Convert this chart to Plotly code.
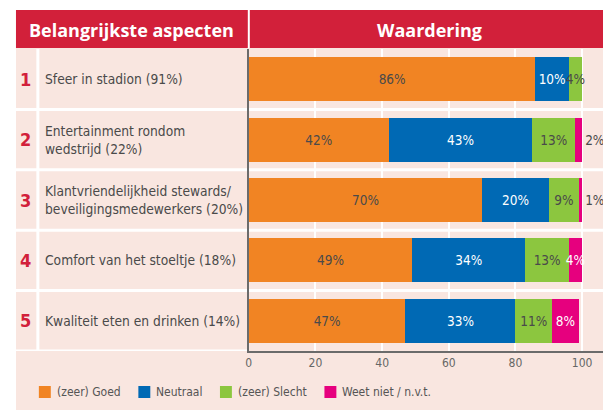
import plotly.graph_objects as go

# page body has an 8px margin; figure laid out in window pixels shifted by it
OFF = 8
WIN_W, WIN_H = 611, 410
W, H = WIN_W - OFF, WIN_H - OFF
PX_PER_UNIT = 3.35

ranks = ["1", "2", "3", "4", "5"]
aspects = [
    "Sfeer in stadion (91%)",
    "Entertainment rondom<br>wedstrijd (22%)",
    "Klantvriendelijkheid stewards/<br>beveiligingsmedewerkers (20%)",
    "Comfort van het stoeltje (18%)",
    "Kwaliteit eten en drinken (14%)",
]
series_names = ["(zeer) Goed", "Neutraal", "(zeer) Slecht", "Weet niet / n.v.t."]
goed = [86, 42, 70, 49, 47]
neutraal = [10, 43, 20, 34, 33]
slecht = [4, 13, 9, 13, 11]
weetniet = [0, 2, 1, 4, 8]
x_ticks = [0, 20, 40, 60, 80, 100]

COLORS = ["#F18423", "#0069B4", "#8CC63F", "#E6007E"]
RED = "#D2203A"
PINK_BG = "#F9E6E0"
TXT = "#4a4a4a"
COND = "Liberation Sans Narrow, DejaVu Sans Condensed, Arial Narrow, sans-serif"
BOLDF = "Open Sans, sans-serif"


def px_x(p):
    return (p - OFF) / W


def px_y(p):
    return 1 - (p - OFF) / H


fig = go.Figure()
series = [goed, neutraal, slecht, weetniet]
for i, (name, vals) in enumerate(zip(series_names, series)):
    texts = [f"{v}%" if v else "" for v in vals]
    if i == 3:
        positions = ["outside" if v < 3 else "inside" for v in vals]
        tcolors = [TXT if v < 3 else "white" for v in vals]
    else:
        positions = ["inside"] * len(vals)
        tcolors = ["white" if i == 1 else TXT] * len(vals)
    fig.add_trace(go.Bar(
        y=aspects, x=vals, name=name, orientation="h",
        marker=dict(color=COLORS[i], line=dict(width=0)),
        text=texts, textposition=positions, insidetextanchor="middle",
        textangle=0, constraintext="none", cliponaxis=False,
        textfont=dict(family=COND, size=13.5, color=tcolors),
        hoverinfo="skip", showlegend=False,
    ))

shapes = []
# pink panel
shapes.append(dict(type="rect", xref="paper", yref="paper", x0=px_x(13), x1=1,
                   y0=0, y1=px_y(48), fillcolor=PINK_BG, line=dict(width=0), layer="below"))
# header
shapes.append(dict(type="rect", xref="paper", yref="paper", x0=px_x(13), x1=1,
                   y0=px_y(48), y1=px_y(10), fillcolor=RED, line=dict(width=0), layer="below"))
shapes.append(dict(type="line", xref="paper", yref="paper", x0=px_x(247), x1=px_x(247),
                   y0=px_y(48), y1=px_y(10), line=dict(color="white", width=2), layer="above"))
# row separators
n = len(aspects)
for k in range(n - 1):
    shapes.append(dict(type="line", xref="paper", yref="y", x0=px_x(13), x1=1,
                       y0=k + 0.5, y1=k + 0.5, line=dict(color="white", width=3), layer="below"))
shapes.append(dict(type="line", xref="paper", yref="y", x0=px_x(13), x1=px_x(246),
                   y0=n - 0.5, y1=n - 0.5, line=dict(color="white", width=3), layer="below"))
# rank column separator
shapes.append(dict(type="line", xref="paper", yref="y", x0=px_x(35), x1=px_x(35),
                   y0=-0.5, y1=n - 0.5, line=dict(color="white", width=3), layer="below"))

annotations = []
annotations.append(dict(text="<b>Belangrijkste aspecten</b>", xref="paper", yref="paper",
                        x=px_x(129), y=px_y(30), xanchor="center", yanchor="middle",
                        showarrow=False, font=dict(family=BOLDF, size=18, color="white")))
annotations.append(dict(text="<b>Waardering</b>", xref="paper", yref="paper",
                        x=px_x(429), y=px_y(30), xanchor="center", yanchor="middle",
                        showarrow=False, font=dict(family=BOLDF, size=18, color="white")))
for r, a in zip(ranks, aspects):
    annotations.append(dict(text=f"<b>{r}</b>", xref="paper", yref="y", x=px_x(23), y=a,
                            xanchor="center", yanchor="middle", showarrow=False,
                            font=dict(family=COND, size=18, color=RED)))
    annotations.append(dict(text=a, xref="paper", yref="y", x=px_x(40), y=a,
                            xanchor="left", yanchor="middle", align="left", showarrow=False,
                            font=dict(family=COND, size=13.7, color=TXT)))

# legend (drawn from the series names and colours)
legend_x = [36, 136, 218, 323]
for lx, name, col in zip(legend_x, series_names, COLORS):
    shapes.append(dict(type="rect", xref="paper", yref="paper",
                       x0=px_x(lx), x1=px_x(lx + 12), y0=px_y(398), y1=px_y(386),
                       fillcolor=col, line=dict(width=0), layer="above"))
    annotations.append(dict(text=name, xref="paper", yref="paper", x=px_x(lx + 16),
                            y=px_y(392), xanchor="left", yanchor="middle", showarrow=False,
                            font=dict(family=COND, size=12, color="#555555")))

fig.update_layout(
    width=W, height=H,
    margin=dict(l=0, r=0, t=0, b=0),
    paper_bgcolor="white", plot_bgcolor="rgba(0,0,0,0)",
    barmode="stack", bargap=0.27,
    shapes=shapes, annotations=annotations,
    xaxis=dict(domain=[px_x(247), 1], range=[0, (WIN_W - 247) / PX_PER_UNIT],
               tickvals=x_ticks, ticktext=[str(t) for t in x_ticks],
               showgrid=True, gridcolor="white", gridwidth=2, zeroline=False,
               showline=True, linecolor="#6b6b6b", linewidth=1.5, ticks="",
               tickfont=dict(family=COND, size=12, color="#666666"), fixedrange=True),
    yaxis=dict(domain=[px_y(351), px_y(49)], type="category", categoryarray=aspects,
               range=[n - 0.5, -0.5], showticklabels=False, showgrid=False,
               zeroline=False, showline=True, linecolor="#6b6b6b", linewidth=1.5,
               fixedrange=True),
    showlegend=False,
)

fig.write_html("out.html")
